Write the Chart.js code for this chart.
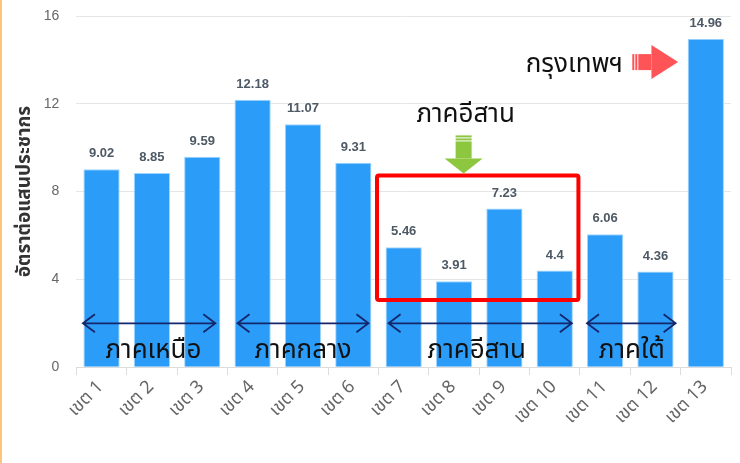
<!DOCTYPE html>
<html><head><meta charset="utf-8">
<script src="https://cdn.jsdelivr.net/npm/chart.js@4/dist/chart.umd.min.js"></script>
<style>
html,body{margin:0;padding:0;background:#fff;}
#wrap{position:relative;width:740px;height:463px;}
#edge{position:absolute;left:0;top:0;width:2px;height:463px;background:#fdc57c;}
canvas{display:block;}
</style></head>
<body><div id="wrap"><div id="edge"></div><canvas id="c" width="740" height="463"></canvas></div>
<script>
const categories = ['เขต 1','เขต 2','เขต 3','เขต 4','เขต 5','เขต 6','เขต 7','เขต 8','เขต 9','เขต 10','เขต 11','เขต 12','เขต 13'];
const rates = [9.02, 8.85, 9.59, 12.18, 11.07, 9.31, 5.46, 3.91, 7.23, 4.4, 6.06, 4.36, 14.96];
const yTicks = [0, 4, 8, 12, 16];
const yTitle = 'อัตราต่อแสนประชากร';
const regionNames = ['ภาคเหนือ', 'ภาคกลาง', 'ภาคอีสาน', 'ภาคใต้'];
const regionFrom = [-0.37, 2.7, 5.7, 9.64];
const regionTo = [2.26, 5.3, 9.34, 11.4];
const regionCenter = [1.03, 4.0, 7.45, 10.53];
const highlightTitle = 'ภาคอีสาน';
const capitalLabel = 'กรุงเทพฯ';

const thaiFont = '"Noto Sans Thai","Noto Sans","Liberation Sans",sans-serif';

const annot = {
  id: 'annot',
  afterDatasetsDraw(chart) {
    const ctx = chart.ctx, xs = chart.scales.x, ys = chart.scales.y;
    const x0 = xs.getPixelForValue(0), step = xs.getPixelForValue(1) - x0;
    const px = i => x0 + i * step;
    const py = v => ys.getPixelForValue(v);
    ctx.save();
    const meta = chart.getDatasetMeta(0);
    ctx.font = 'bold 13px "Liberation Sans", Arial, sans-serif';
    ctx.fillStyle = '#4d5964';
    ctx.textAlign = 'center';
    ctx.textBaseline = 'bottom';
    meta.data.forEach((b, i) => {
      ctx.fillText(String(rates[i]), b.x, b.y - 9);
    });
    ctx.strokeStyle = '#15276b';
    ctx.lineWidth = 1.8;
    const ay = py(2.0);
    regionFrom.forEach((f, k) => {
      const a = px(f), b = px(regionTo[k]);
      ctx.beginPath();
      ctx.moveTo(a, ay); ctx.lineTo(b, ay);
      ctx.moveTo(a + 12, ay - 9); ctx.lineTo(a, ay); ctx.lineTo(a + 12, ay + 9);
      ctx.moveTo(b - 12, ay - 9); ctx.lineTo(b, ay); ctx.lineTo(b - 12, ay + 9);
      ctx.stroke();
    });
    ctx.font = '26px ' + thaiFont;
    ctx.fillStyle = '#111';
    ctx.textBaseline = 'middle';
    regionNames.forEach((n, k) => ctx.fillText(n, px(regionCenter[k]), py(0.64)));
    ctx.strokeStyle = '#ff0000';
    ctx.lineWidth = 4;
    const rx1 = px(5.47), rx2 = px(9.47), ry1 = py(8.73), ry2 = py(3.06);
    ctx.beginPath();
    ctx.roundRect ? ctx.roundRect(rx1, ry1, rx2 - rx1, ry2 - ry1, 2) : ctx.rect(rx1, ry1, rx2 - rx1, ry2 - ry1);
    ctx.stroke();
    ctx.fillStyle = '#111';
    ctx.fillText(highlightTitle, px(7.23), py(11.43));
    const gx = px(7.19), gt = py(10.56), gb = py(9.51), gtip = py(8.82);
    ctx.fillStyle = '#8dc63f';
    ctx.fillRect(gx - 8, gt, 16, 2);
    ctx.fillRect(gx - 8, gt + 3, 16, 2);
    ctx.fillRect(gx - 8, gt + 6, 16, gb - gt - 6);
    ctx.beginPath();
    ctx.moveTo(gx - 19, gb); ctx.lineTo(gx + 19, gb); ctx.lineTo(gx, gtip); ctx.closePath();
    ctx.fill();
    ctx.fillStyle = '#111';
    ctx.fillText(capitalLabel, px(9.39), py(13.71));
    const rl = px(10.54), rh = px(10.92), rt = px(11.45), ryc = py(13.9);
    ctx.fillStyle = '#ff5457';
    ctx.fillRect(rl, ryc - 8, 2, 16);
    ctx.fillRect(rl + 3, ryc - 8, 2, 16);
    ctx.fillRect(rl + 6, ryc - 8, rh - rl - 6, 16);
    ctx.beginPath();
    ctx.moveTo(rh, ryc - 17); ctx.lineTo(rt, ryc); ctx.lineTo(rh, ryc + 17); ctx.closePath();
    ctx.fill();
    ctx.restore();
  }
};

new Chart(document.getElementById('c'), {
  type: 'bar',
  data: {
    labels: categories,
    datasets: [{
      data: rates,
      backgroundColor: '#2b9cf8',
      borderColor: '#9fd6ff',
      borderWidth: 1
    }]
  },
  options: {
    responsive: false,
    animation: false,
    layout: { padding: { top: 16, right: 9, bottom: 32, left: 9 } },
    plugins: { legend: { display: false }, tooltip: { enabled: false } },
    scales: {
      x: {
        afterFit: s => { s.paddingLeft = 0; s.paddingRight = 0; },
        grid: { drawOnChartArea: false, drawTicks: true, tickLength: 8, color: '#dcdcdc' },
        border: { color: '#dcdcdc' },
        ticks: { minRotation: 45, maxRotation: 45, color: '#666', font: { size: 18, family: thaiFont }, padding: 2 }
      },
      y: {
        min: 0, max: 16,
        afterFit: s => { s.width -= 17; s.paddingTop = 0; s.paddingBottom = 0; },
        afterBuildTicks: s => { s.ticks = yTicks.map(v => ({ value: v })); },
        grid: { drawTicks: false, color: '#e6e6e6' },
        border: { display: false },
        ticks: { color: '#666', font: { size: 14, family: '"Liberation Sans", Arial, sans-serif' }, padding: 17 },
        title: { display: true, text: yTitle, color: '#333', font: { size: 19, weight: 'bold', family: thaiFont }, padding: 6 }
      }
    }
  },
  plugins: [annot]
});
</script></body></html>
